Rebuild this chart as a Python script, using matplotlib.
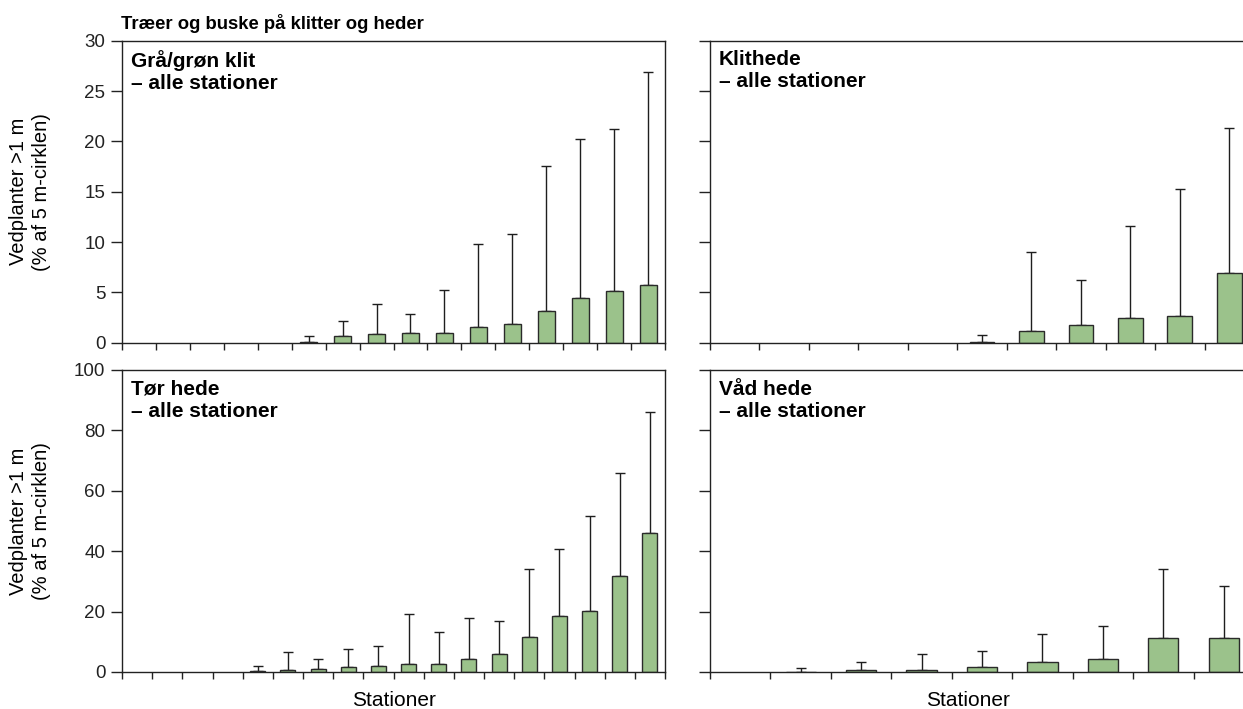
import matplotlib

matplotlib.use("Agg")
import matplotlib.pyplot as plt
import numpy as np

plt.rcParams.update(
    {
        "font.family": ["Liberation Sans", "DejaVu Sans"],
        "font.size": 13,
        "axes.linewidth": 1.0,
        "axes.edgecolor": "#222222",
        "xtick.color": "#222222",
        "ytick.color": "#222222",
    }
)

BAR_COLOR = "#9bc28b"
EDGE_COLOR = "#2a2a2a"

# mean cover per station (sorted), and upper standard deviation
gra_mean = [0, 0, 0, 0, 0, 0.08, 0.63, 0.9, 0.96, 1.0, 1.56, 1.9, 3.18, 4.47, 5.1, 5.73]
gra_sd = [0, 0, 0, 0, 0, 0.62, 1.57, 2.95, 1.89, 4.2, 8.22, 8.94, 14.39, 15.73, 16.08, 21.12]

klit_mean = [0, 0, 0, 0, 0, 0.1, 1.2, 1.73, 2.43, 2.66, 6.94]
klit_sd = [0, 0, 0, 0, 0, 0.66, 7.77, 4.45, 9.2, 12.62, 14.39]

tor_mean = [0, 0, 0, 0, 0.45, 0.8, 1.1, 1.77, 2.0, 2.76, 2.76, 4.3, 5.97,
            11.7, 18.45, 20.1, 31.8, 45.9]
tor_sd = [0, 0, 0, 0, 1.55, 5.9, 3.3, 5.83, 6.7, 16.44, 10.64, 13.5, 10.93,
          22.55, 22.35, 31.6, 34.1, 40.1]

vad_mean = [0, 0.05, 0.66, 0.77, 1.66, 3.3, 4.2, 11.27, 11.4]
vad_sd = [0, 1.39, 2.64, 5.23, 5.34, 9.2, 11.05, 22.73, 17.0]

panels = [
    ("Grå/grøn klit\n– alle stationer", gra_mean, gra_sd, (0, 30), [0, 5, 10, 15, 20, 25, 30]),
    ("Klithede\n– alle stationer", klit_mean, klit_sd, (0, 30), [0, 5, 10, 15, 20, 25, 30]),
    ("Tør hede\n– alle stationer", tor_mean, tor_sd, (0, 100), [0, 20, 40, 60, 80, 100]),
    ("Våd hede\n– alle stationer", vad_mean, vad_sd, (0, 100), [0, 20, 40, 60, 80, 100]),
]

W, H = 1243, 709
fig = plt.figure(figsize=(W / 100, H / 100), dpi=100)

# axes rectangles in pixels: left, top, right, bottom
rects = [
    (122, 40.7, 665, 342.7),
    (710, 40.7, 1254, 342.7),
    (122, 370, 665, 672),
    (710, 370, 1254, 672),
]

axes = []
for (label, mean, sd, ylim, yticks), (l, t, r, b) in zip(panels, rects):
    ax = fig.add_axes([l / W, 1 - b / H, (r - l) / W, (b - t) / H])
    mean = np.array(mean, dtype=float)
    sd = np.array(sd, dtype=float)
    n = len(mean)
    x = np.arange(1, n + 1)
    has = sd > 0
    ax.errorbar(
        x[has], mean[has], yerr=[np.zeros(has.sum()), sd[has]], fmt="none",
        ecolor="#1e1e1e", elinewidth=1.0, capsize=3.6, capthick=1.0, zorder=1,
    )
    shown = mean > 0
    ax.bar(x[shown], mean[shown], width=0.5, color=BAR_COLOR, edgecolor=EDGE_COLOR,
           linewidth=1.0, zorder=2)
    ax.set_xlim(0.5, n + 0.5)
    ax.set_ylim(*ylim)
    ax.set_yticks(yticks)
    ax.set_xticks(np.arange(0.5, n + 1.0, 1.0))
    ax.tick_params(axis="x", direction="out", length=5, width=1.0, labelbottom=False)
    ax.tick_params(axis="y", direction="out", length=8, width=1.0, pad=4, labelsize=13.5)
    ax.text(0.016, 0.968, label, transform=ax.transAxes, ha="left", va="top",
            fontsize=15, fontweight="bold", linespacing=1.2)
    axes.append(ax)

for ax in (axes[1], axes[3]):
    ax.tick_params(axis="y", labelleft=False)

for ax, xc in ((axes[2], 0.5), (axes[3], 0.474)):
    ax.set_xlabel("Stationer", fontsize=15)
    ax.xaxis.set_label_coords(xc, -0.062, transform=ax.transAxes)
    ax.xaxis.label.set_va("top")

ylab = "Vedplanter >1 m\n(% af 5 m-cirklen)"
fig.text(30 / W, 1 - 191.7 / H, ylab, rotation=90, ha="center", va="center",
         fontsize=14.5, linespacing=1.25)
fig.text(30 / W, 1 - 521 / H, ylab, rotation=90, ha="center", va="center",
         fontsize=14.5, linespacing=1.25)

fig.text(121 / W, 1 - 29 / H, "Træer og buske på klitter og heder", ha="left",
         va="baseline", fontsize=13.3, fontweight="bold")

fig.savefig("out.png", dpi=100)
